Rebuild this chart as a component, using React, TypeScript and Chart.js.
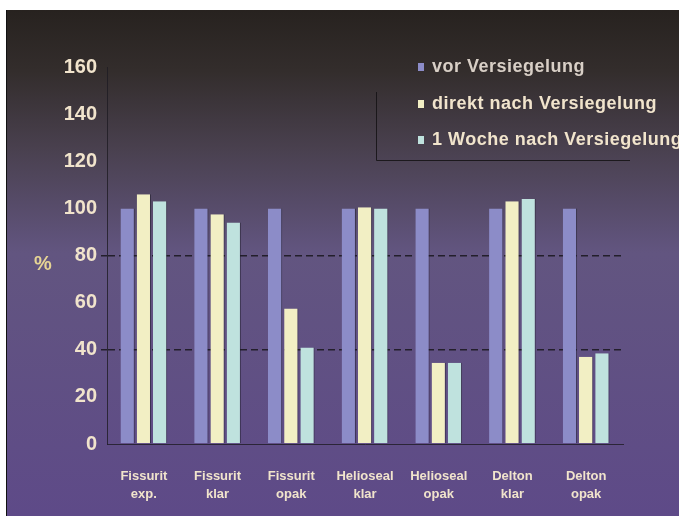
import React, { useEffect, useRef } from "react";
import { Chart, registerables } from "chart.js";

Chart.register(...registerables);

const categories: string[][] = [
  ["Fissurit", "exp."],
  ["Fissurit", "klar"],
  ["Fissurit", "opak"],
  ["Helioseal", "klar"],
  ["Helioseal", "opak"],
  ["Delton", "klar"],
  ["Delton", "opak"],
];
const seriesNames = ["vor Versiegelung", "direkt nach Versiegelung", "1 Woche nach Versiegelung"];
const vorValues = [100, 100, 100, 100, 100, 100, 100];
const direktValues = [106, 97.5, 57.5, 100.5, 34.5, 103, 37];
const wocheValues = [103, 94, 41, 100, 34.5, 104, 38.5];
const yTicks = [0, 20, 40, 60, 80, 100, 120, 140, 160];
const gridValues = [40, 80];

const barColors = ["#8c8cc8", "#f2efc4", "#bfe2de"];
const textColor = "#f1e4cc";

const bgPlugin = {
  id: "bgPlugin",
  beforeDraw(chart: any) {
    const { ctx, width, height } = chart;
    ctx.save();
    ctx.fillStyle = "#ffffff";
    ctx.fillRect(0, 0, width, height);
    const g = ctx.createLinearGradient(0, 10, 0, height);
    g.addColorStop(0, "#27221f");
    g.addColorStop(0.12, "#332d2c");
    g.addColorStop(0.28, "#4a4150");
    g.addColorStop(0.48, "#625580");
    g.addColorStop(1, "#5e4a88");
    ctx.fillStyle = g;
    ctx.fillRect(7, 10, width - 7, height - 10);
    ctx.fillStyle = "#111111";
    ctx.fillRect(6, 10, 1, height - 10);
    ctx.restore();
  },
  afterDraw(chart: any) {
    const { ctx } = chart;
    ctx.save();
    // legend box lines
    ctx.strokeStyle = "rgba(20,18,20,0.85)";
    ctx.lineWidth = 1;
    ctx.beginPath();
    ctx.moveTo(376.5, 92);
    ctx.lineTo(376.5, 160.5);
    ctx.lineTo(630, 160.5);
    ctx.stroke();
    // legend items
    const rows = [67, 104, 140];
    ctx.font = "bold 18px 'Liberation Sans', Arial, sans-serif";
    try {
      (ctx as any).letterSpacing = "0.5px";
    } catch (e) {}
    ctx.textBaseline = "middle";
    ctx.textAlign = "left";
    chart.data.datasets.forEach((ds: any, i: number) => {
      const y = rows[i];
      ctx.fillStyle = ds.backgroundColor;
      ctx.fillRect(418, y - 4, 6, 8);
      ctx.fillStyle = i === 0 ? "#d8cfc6" : textColor;
      ctx.fillText(ds.label, 432, y);
    });
    try {
      (ctx as any).letterSpacing = "0px";
    } catch (e) {}
    // % label
    ctx.font = "bold 20px 'Liberation Sans', Arial, sans-serif";
    ctx.fillStyle = "#e6d494";
    ctx.textAlign = "left";
    ctx.fillText("%", 34, 264);
    ctx.restore();
  },
};

export default function App() {
  const ref = useRef<HTMLCanvasElement | null>(null);
  useEffect(() => {
    document.body.style.margin = "0";
    const canvas = ref.current!;
    const chart = new Chart(canvas, {
      type: "bar",
      data: {
        labels: categories,
        datasets: [
          { label: seriesNames[0], data: vorValues, backgroundColor: barColors[0] },
          { label: seriesNames[1], data: direktValues, backgroundColor: barColors[1] },
          { label: seriesNames[2], data: wocheValues, backgroundColor: barColors[2] },
        ].map((d) => ({
          ...d,
          borderColor: "rgba(30,28,40,0.55)",
          borderWidth: { left: 0, right: 1, top: 0, bottom: 0 },
          categoryPercentage: 0.66,
          barPercentage: 0.88,
        })),
      },
      options: {
        animation: false,
        responsive: false,
        maintainAspectRatio: false,
        layout: { padding: { top: 67, right: 56, bottom: 0, left: 0 } },
        plugins: { legend: { display: false }, tooltip: { enabled: false } },
        scales: {
          x: {
            grid: { display: false, drawTicks: false },
            border: { display: true, color: "rgba(30,28,35,0.8)" },
            ticks: {
              color: textColor,
              font: { family: "'Liberation Sans', Arial, sans-serif", size: 13, weight: "bold", lineHeight: 1.35 },
              padding: 24,
              maxRotation: 0,
              autoSkip: false,
            },
            afterFit(scale: any) {
              scale.height = 72;
            },
          },
          y: {
            min: 0,
            max: 160,
            afterBuildTicks(scale: any) {
              scale.ticks = yTicks.map((v) => ({ value: v }));
            },
            grid: {
              color: (c: any) => (c.tick && gridValues.includes(c.tick.value) ? "rgba(25,22,28,0.85)" : "transparent"),
              tickColor: (c: any) => (c.tick && gridValues.includes(c.tick.value) ? "rgba(25,22,28,0.85)" : "transparent"),
              tickLength: 6,
              lineWidth: 1.5,
            },
            border: { display: true, color: "rgba(30,28,35,0.8)", dash: [7, 4] },
            ticks: {
              color: textColor,
              font: { family: "'Liberation Sans', Arial, sans-serif", size: 20, weight: "bold" },
              padding: 4,
            },
            afterFit(scale: any) {
              scale.width = 107;
            },
          },
        },
      },
      plugins: [bgPlugin],
    } as any);
    return () => chart.destroy();
  }, []);
  return (
    <div style={{ position: "fixed", left: 0, top: 0, width: 679, height: 516 }}>
      <canvas ref={ref} width={679} height={516} style={{ width: 679, height: 516, display: "block" }} />
    </div>
  );
}
